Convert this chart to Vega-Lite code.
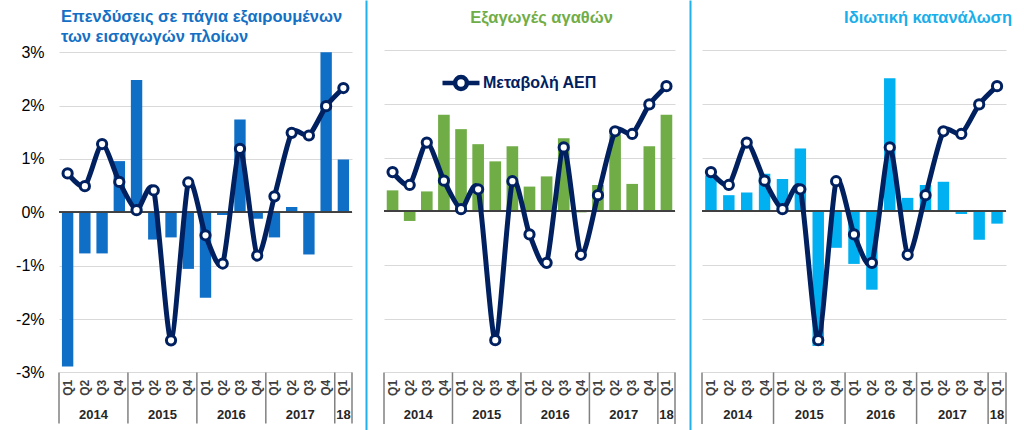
{
  "$schema": "https://vega.github.io/schema/vega-lite/v6.json",
  "padding": {"left": 15, "top": 0, "right": 0, "bottom": 0},
  "background": "white",
  "spacing": 12,
  "config": {"view": {"stroke": null}, "font": "Liberation Sans"},
  "datasets": {
    "main": [
      {"period": "2014 Q1", "q": "Q1", "gdp": 0.73, "inv": -2.89, "exp": 0.39, "cons": 0.67},
      {"period": "2014 Q2", "q": "Q2", "gdp": 0.49, "inv": -0.77, "exp": -0.18, "cons": 0.30},
      {"period": "2014 Q3", "q": "Q3", "gdp": 1.28, "inv": -0.77, "exp": 0.37, "cons": 0.35},
      {"period": "2014 Q4", "q": "Q4", "gdp": 0.57, "inv": 0.96, "exp": 1.80, "cons": 0.70},
      {"period": "2015 Q1", "q": "Q1", "gdp": 0.04, "inv": 2.48, "exp": 1.53, "cons": 0.60},
      {"period": "2015 Q2", "q": "Q2", "gdp": 0.41, "inv": -0.51, "exp": 1.25, "cons": 1.17},
      {"period": "2015 Q3", "q": "Q3", "gdp": -2.40, "inv": -0.47, "exp": 0.93, "cons": -2.51},
      {"period": "2015 Q4", "q": "Q4", "gdp": 0.56, "inv": -1.06, "exp": 1.21, "cons": -0.68},
      {"period": "2016 Q1", "q": "Q1", "gdp": -0.43, "inv": -1.60, "exp": 0.46, "cons": -0.98},
      {"period": "2016 Q2", "q": "Q2", "gdp": -0.96, "inv": -0.05, "exp": 0.65, "cons": -1.46},
      {"period": "2016 Q3", "q": "Q3", "gdp": 1.19, "inv": 1.74, "exp": 1.36, "cons": 2.48},
      {"period": "2016 Q4", "q": "Q4", "gdp": -0.81, "inv": -0.12, "exp": -0.02, "cons": 0.25},
      {"period": "2017 Q1", "q": "Q1", "gdp": 0.30, "inv": -0.47, "exp": 0.49, "cons": 0.49},
      {"period": "2017 Q2", "q": "Q2", "gdp": 1.49, "inv": 0.10, "exp": 1.43, "cons": 0.55},
      {"period": "2017 Q3", "q": "Q3", "gdp": 1.44, "inv": -0.79, "exp": 0.51, "cons": -0.05},
      {"period": "2017 Q4", "q": "Q4", "gdp": 1.99, "inv": 3.00, "exp": 1.21, "cons": -0.53},
      {"period": "2018 Q1", "q": "Q1", "gdp": 2.33, "inv": 0.99, "exp": 1.80, "cons": -0.23}
    ],
    "years": [
      {"anchor": "2014 Q2", "label": "2014", "kind": "full"},
      {"anchor": "2015 Q2", "label": "2015", "kind": "full"},
      {"anchor": "2016 Q2", "label": "2016", "kind": "full"},
      {"anchor": "2017 Q2", "label": "2017", "kind": "full"},
      {"anchor": "2018 Q1", "label": "18", "kind": "part"}
    ],
    "series": [
      {"series": "Μεταβολή ΑΕΠ"}
    ]
  },
  "resolve": {"scale": {"x": "independent", "y": "independent", "color": "independent"}},
  "hconcat": [
    {
      "width": 293, "height": 430,
      "layer": [
        {
          "data": {"name": "main"},
          "mark": {"type": "bar", "width": {"band": 0.66}, "color": "#0F6FC6"},
          "encoding": {
            "x": {"field": "period", "type": "ordinal", "sort": null, "scale": {"type": "band", "paddingInner": 0, "paddingOuter": 0}, "axis": null},
            "y": {"field": "inv", "type": "quantitative", "scale": {"domain": [-4.08, 3.98], "nice": false, "zero": false},
              "axis": {"values": [-3, -2, -1, 0, 1, 2, 3], "labelExpr": "datum.value + '%'", "labelFontSize": 16, "labelColor": "#000000", "labelPadding": 15, "ticks": false, "domain": false, "grid": true, "gridColor": "#D9D9D9", "gridWidth": 1, "title": null}}
          }
        },
        {"data": {"name": "main"}, "mark": {"type": "rule", "color": "#404040", "strokeWidth": 1}, "encoding": {"y": {"datum": 0}}},
        {
          "data": {"name": "main"},
          "transform": [{"filter": "datum.q == 'Q1'"}],
          "mark": {"type": "rule", "color": "#808080", "strokeWidth": 1.5},
          "encoding": {"x": {"field": "period", "type": "ordinal", "sort": null, "bandPosition": 0}, "y": {"datum": -3}, "y2": {"datum": -3.96}}
        },
        {
          "data": {"name": "main"},
          "transform": [{"filter": "datum.period == '2018 Q1'"}],
          "mark": {"type": "rule", "color": "#808080", "strokeWidth": 1.5},
          "encoding": {"x": {"field": "period", "type": "ordinal", "sort": null, "bandPosition": 1}, "y": {"datum": -3}, "y2": {"datum": -3.96}}
        },
        {
          "data": {"name": "main"},
          "mark": {"type": "text", "angle": 270, "align": "right", "baseline": "middle", "fontSize": 12, "fontWeight": "bold", "color": "#404040"},
          "encoding": {"x": {"field": "period", "type": "ordinal", "sort": null}, "y": {"datum": -3.14}, "text": {"field": "q"}}
        },
        {
          "data": {"name": "years"},
          "transform": [{"filter": "datum.kind == 'full'"}],
          "mark": {"type": "text", "align": "center", "baseline": "middle", "fontSize": 13, "fontWeight": "bold", "color": "#262626"},
          "encoding": {"x": {"field": "anchor", "type": "ordinal", "sort": null, "bandPosition": 1}, "y": {"datum": -3.795}, "text": {"field": "label"}}
        },
        {
          "data": {"name": "years"},
          "transform": [{"filter": "datum.kind == 'part'"}],
          "mark": {"type": "text", "align": "center", "baseline": "middle", "fontSize": 13, "fontWeight": "bold", "color": "#262626"},
          "encoding": {"x": {"field": "anchor", "type": "ordinal", "sort": null, "bandPosition": 0.5}, "y": {"datum": -3.795}, "text": {"field": "label"}}
        },
        {
          "data": {"name": "main"},
          "mark": {"type": "line", "interpolate": "cardinal", "tension": 0.3, "color": "#002060", "strokeWidth": 5},
          "encoding": {"x": {"field": "period", "type": "ordinal", "sort": null}, "y": {"field": "gdp", "type": "quantitative"}}
        },
        {
          "data": {"name": "main"},
          "mark": {"type": "point", "shape": "circle", "filled": true, "fill": "white", "stroke": "#002060", "strokeWidth": 3, "size": 85, "opacity": 1},
          "encoding": {"x": {"field": "period", "type": "ordinal", "sort": null}, "y": {"field": "gdp", "type": "quantitative"}}
        },
        {
          "data": {"name": "series"},
          "mark": {"type": "text", "text": ["Επενδύσεις σε πάγια εξαιρουμένων", "των εισαγωγών πλοίων"], "align": "left", "baseline": "alphabetic", "lineHeight": 19.5, "fontSize": 16.5, "fontWeight": "bold", "color": "#1470C4", "dx": 2},
          "encoding": {"x": {"datum": "2014 Q1", "bandPosition": 0}, "y": {"datum": 3.56}}
        }
      ]
    },
    {
      "width": 291, "height": 430,
      "layer": [
        {
          "data": {"name": "main"},
          "mark": {"type": "bar", "width": {"band": 0.68}, "color": "#70AD47"},
          "encoding": {
            "x": {"field": "period", "type": "ordinal", "sort": null, "scale": {"type": "band", "paddingInner": 0, "paddingOuter": 0}, "axis": null},
            "y": {"field": "exp", "type": "quantitative", "scale": {"domain": [-4.073, 3.935], "nice": false, "zero": false},
              "axis": {"values": [-3, -2, -1, 0, 1, 2, 3], "labels": false, "ticks": false, "domain": true, "domainColor": "#1FB1EC", "domainWidth": 2, "offset": 18, "grid": true, "gridColor": "#D9D9D9", "gridWidth": 1, "title": null}}
          }
        },
        {"data": {"name": "main"}, "mark": {"type": "rule", "color": "#404040", "strokeWidth": 1}, "encoding": {"y": {"datum": 0}}},
        {
          "data": {"name": "main"},
          "transform": [{"filter": "datum.q == 'Q1'"}],
          "mark": {"type": "rule", "color": "#808080", "strokeWidth": 1.5},
          "encoding": {"x": {"field": "period", "type": "ordinal", "sort": null, "bandPosition": 0}, "y": {"datum": -3}, "y2": {"datum": -3.96}}
        },
        {
          "data": {"name": "main"},
          "transform": [{"filter": "datum.period == '2018 Q1'"}],
          "mark": {"type": "rule", "color": "#808080", "strokeWidth": 1.5},
          "encoding": {"x": {"field": "period", "type": "ordinal", "sort": null, "bandPosition": 1}, "y": {"datum": -3}, "y2": {"datum": -3.96}}
        },
        {
          "data": {"name": "main"},
          "mark": {"type": "text", "angle": 270, "align": "right", "baseline": "middle", "fontSize": 12, "fontWeight": "bold", "color": "#404040"},
          "encoding": {"x": {"field": "period", "type": "ordinal", "sort": null}, "y": {"datum": -3.14}, "text": {"field": "q"}}
        },
        {
          "data": {"name": "years"},
          "transform": [{"filter": "datum.kind == 'full'"}],
          "mark": {"type": "text", "align": "center", "baseline": "middle", "fontSize": 13, "fontWeight": "bold", "color": "#262626"},
          "encoding": {"x": {"field": "anchor", "type": "ordinal", "sort": null, "bandPosition": 1}, "y": {"datum": -3.795}, "text": {"field": "label"}}
        },
        {
          "data": {"name": "years"},
          "transform": [{"filter": "datum.kind == 'part'"}],
          "mark": {"type": "text", "align": "center", "baseline": "middle", "fontSize": 13, "fontWeight": "bold", "color": "#262626"},
          "encoding": {"x": {"field": "anchor", "type": "ordinal", "sort": null, "bandPosition": 0.5}, "y": {"datum": -3.795}, "text": {"field": "label"}}
        },
        {
          "data": {"name": "main"},
          "transform": [{"calculate": "'Μεταβολή ΑΕΠ'", "as": "series"}],
          "mark": {"type": "line", "interpolate": "cardinal", "tension": 0.3, "strokeWidth": 5},
          "encoding": {
            "x": {"field": "period", "type": "ordinal", "sort": null},
            "y": {"field": "gdp", "type": "quantitative"},
            "color": {"field": "series", "type": "nominal", "scale": {"range": ["#002060"]},
              "legend": {"orient": "none", "legendX": 56, "legendY": 62, "title": null, "symbolType": "M-1,0H-0.32M0.32,0H1M0.32,0A0.32,0.32,0,1,1,-0.32,0A0.32,0.32,0,1,1,0.32,0", "symbolSize": 1369, "symbolStrokeWidth": 4.5, "symbolFillColor": "white", "labelFontSize": 16, "labelFontWeight": "bold", "labelColor": "#002060", "labelOffset": 1}}
          }
        },
        {
          "data": {"name": "main"},
          "mark": {"type": "point", "shape": "circle", "filled": true, "fill": "white", "stroke": "#002060", "strokeWidth": 3, "size": 85, "opacity": 1},
          "encoding": {"x": {"field": "period", "type": "ordinal", "sort": null}, "y": {"field": "gdp", "type": "quantitative"}}
        },
        {
          "data": {"name": "series"},
          "mark": {"type": "text", "text": "Εξαγωγές αγαθών", "align": "center", "baseline": "alphabetic", "fontSize": 16.5, "fontWeight": "bold", "color": "#70AD47"},
          "encoding": {"x": {"datum": "2016 Q2", "bandPosition": 0.2}, "y": {"datum": 3.51}}
        }
      ]
    },
    {
      "width": 304, "height": 430,
      "layer": [
        {
          "data": {"name": "main"},
          "mark": {"type": "bar", "width": {"band": 0.64}, "color": "#00B0F0"},
          "encoding": {
            "x": {"field": "period", "type": "ordinal", "sort": null, "scale": {"type": "band", "paddingInner": 0, "paddingOuter": 0}, "axis": null},
            "y": {"field": "cons", "type": "quantitative", "scale": {"domain": [-4.073, 3.935], "nice": false, "zero": false},
              "axis": {"values": [-3, -2, -1, 0, 1, 2, 3], "labels": false, "ticks": false, "domain": true, "domainColor": "#1FB1EC", "domainWidth": 2, "offset": 12, "grid": true, "gridColor": "#D9D9D9", "gridWidth": 1, "title": null}}
          }
        },
        {"data": {"name": "main"}, "mark": {"type": "rule", "color": "#404040", "strokeWidth": 1}, "encoding": {"y": {"datum": 0}}},
        {
          "data": {"name": "main"},
          "transform": [{"filter": "datum.q == 'Q1'"}],
          "mark": {"type": "rule", "color": "#808080", "strokeWidth": 1.5},
          "encoding": {"x": {"field": "period", "type": "ordinal", "sort": null, "bandPosition": 0}, "y": {"datum": -3}, "y2": {"datum": -3.96}}
        },
        {
          "data": {"name": "main"},
          "transform": [{"filter": "datum.period == '2018 Q1'"}],
          "mark": {"type": "rule", "color": "#808080", "strokeWidth": 1.5},
          "encoding": {"x": {"field": "period", "type": "ordinal", "sort": null, "bandPosition": 1}, "y": {"datum": -3}, "y2": {"datum": -3.96}}
        },
        {
          "data": {"name": "main"},
          "mark": {"type": "text", "angle": 270, "align": "right", "baseline": "middle", "fontSize": 12, "fontWeight": "bold", "color": "#404040"},
          "encoding": {"x": {"field": "period", "type": "ordinal", "sort": null}, "y": {"datum": -3.14}, "text": {"field": "q"}}
        },
        {
          "data": {"name": "years"},
          "transform": [{"filter": "datum.kind == 'full'"}],
          "mark": {"type": "text", "align": "center", "baseline": "middle", "fontSize": 13, "fontWeight": "bold", "color": "#262626"},
          "encoding": {"x": {"field": "anchor", "type": "ordinal", "sort": null, "bandPosition": 1}, "y": {"datum": -3.795}, "text": {"field": "label"}}
        },
        {
          "data": {"name": "years"},
          "transform": [{"filter": "datum.kind == 'part'"}],
          "mark": {"type": "text", "align": "center", "baseline": "middle", "fontSize": 13, "fontWeight": "bold", "color": "#262626"},
          "encoding": {"x": {"field": "anchor", "type": "ordinal", "sort": null, "bandPosition": 0.5}, "y": {"datum": -3.795}, "text": {"field": "label"}}
        },
        {
          "data": {"name": "main"},
          "mark": {"type": "line", "interpolate": "cardinal", "tension": 0.3, "color": "#002060", "strokeWidth": 5},
          "encoding": {"x": {"field": "period", "type": "ordinal", "sort": null}, "y": {"field": "gdp", "type": "quantitative"}}
        },
        {
          "data": {"name": "main"},
          "mark": {"type": "point", "shape": "circle", "filled": true, "fill": "white", "stroke": "#002060", "strokeWidth": 3, "size": 85, "opacity": 1},
          "encoding": {"x": {"field": "period", "type": "ordinal", "sort": null}, "y": {"field": "gdp", "type": "quantitative"}}
        },
        {
          "data": {"name": "series"},
          "mark": {"type": "text", "text": "Ιδιωτική κατανάλωση", "align": "right", "baseline": "alphabetic", "fontSize": 16.5, "fontWeight": "bold", "color": "#1AAEEA", "dx": 6},
          "encoding": {"x": {"datum": "2018 Q1", "bandPosition": 1}, "y": {"datum": 3.51}}
        }
      ]
    }
  ]
}
